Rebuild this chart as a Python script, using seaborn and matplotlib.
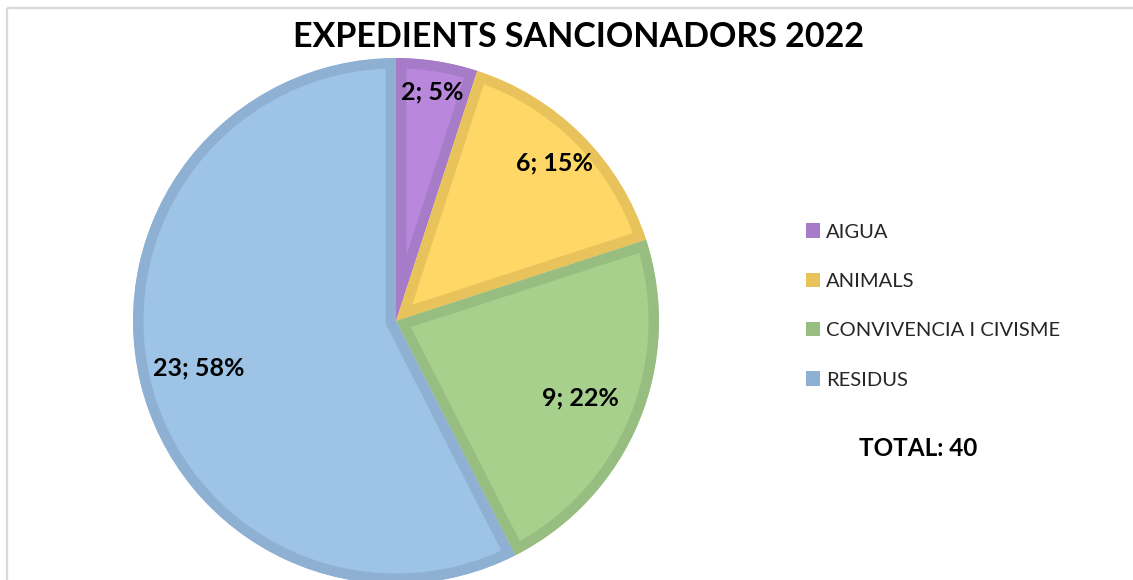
import matplotlib
matplotlib.use("Agg")
import numpy as np
import seaborn as sns
import matplotlib.pyplot as plt
from matplotlib.patches import Patch

categories = ["AIGUA", "ANIMALS", "CONVIVENCIA I CIVISME", "RESIDUS"]
counts = [2, 6, 9, 23]
fill_colors = ["#B987DC", "#FFD766", "#A8D08D", "#9DC3E6"]
edge_colors = ["#A67CC8", "#E8C35C", "#98BD80", "#8EB0D2"]
label_dist = [0.88, 0.85, 0.76, 0.77]
title = "EXPEDIENTS SANCIONADORS 2022"

sns.set_theme(style="white")
plt.rcParams["font.family"] = ["Lato", "DejaVu Sans"]

W, H = 1133, 580
fig = plt.figure(figsize=(W / 100, H / 100), dpi=100)
ax = fig.add_axes([0, 0, 1, 1])

cx, cy, r = 396, H - 321, 263
wedges, _ = ax.pie(
    counts,
    colors=fill_colors,
    startangle=90,
    counterclock=False,
    center=(cx, cy),
    radius=r,
    frame=True,
)
ax.set_xlim(0, W)
ax.set_ylim(0, H)
ax.set_aspect("equal")
ax.axis("off")

# chart frame (only top and left edges are visible)
ax.plot([7, W], [H - 8, H - 8], color="#D9D9D9", lw=1.6, solid_capstyle="butt")
ax.plot([7, 7], [0, H - 8], color="#D9D9D9", lw=1.6, solid_capstyle="butt")

total = sum(counts)
for w, ec, v, d in zip(wedges, edge_colors, counts, label_dist):
    # inner border: thick edge clipped to the wedge's own outline
    w.set_edgecolor(ec)
    w.set_linewidth(15)
    w.set_clip_on(True)
    w.set_clip_path(w.get_path(), w.get_transform())
    pct = v * 100 / total
    mid = np.deg2rad((w.theta1 + w.theta2) / 2)
    ax.text(
        cx + d * r * np.cos(mid),
        cy + d * r * np.sin(mid),
        f"{v}; {pct:.0f}%",
        ha="center",
        va="center",
        fontsize=18,
        fontweight="bold",
        color="black",
    )

handles = [Patch(facecolor=c, edgecolor="none") for c in edge_colors]
ax.legend(
    handles,
    categories,
    loc="center left",
    bbox_to_anchor=(806, H - 306),
    bbox_transform=ax.transData,
    frameon=False,
    fontsize=14.5,
    handlelength=0.7,
    handleheight=0.7,
    handletextpad=0.28,
    labelspacing=1.6,
    borderpad=0,
    borderaxespad=0,
)

ax.text(918, H - 448, f"TOTAL: {total}", ha="center", va="center",
        fontsize=17.5, fontweight="bold", color="black")

ax.text(579, H - 37, title, ha="center", va="center",
        fontsize=24.5, fontweight="bold", color="black")

plt.savefig("out.png", dpi=100)
plt.close()
